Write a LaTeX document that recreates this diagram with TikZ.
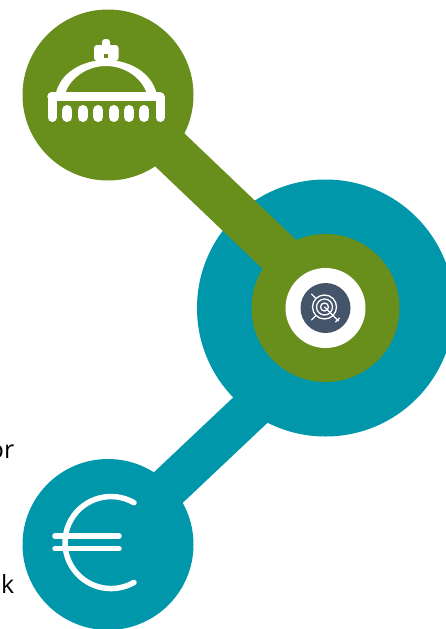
\documentclass[tikz,border=0pt]{standalone}
\usepackage{fontspec}
\setmainfont{Open Sans}
\usetikzlibrary{positioning, calc}
\definecolor{domegreen}{RGB}{104, 142, 28}
\definecolor{hubteal}{RGB}{0, 151, 171}
\definecolor{coreslate}{RGB}{68, 84, 106}
\tikzset{
  disc/.style={circle, inner sep=0pt, minimum size=#1, draw=none},
  iconline/.style={draw=white, line cap=round, line join=round},
  cuttext/.style={inner sep=0pt, anchor=base east, text=black, font=\fontsize{25}{28}\selectfont}
}
\begin{document}
\begin{tikzpicture}[x=1pt, y=-1pt]
  \useasboundingbox (0,0) rectangle (445,629);
  \node[disc=257pt, fill=hubteal] (hubouter) at (325.5,308) {};
  \node[disc=171pt, fill=domegreen] (domecircle) at (108,95) {};
  \node[disc=171pt, fill=hubteal] (eurocircle) at (108,544.5) {};
  \node[disc=148pt, fill=domegreen] (hubring) at (325.5,308) {};
  \coordinate (greenend) at (300,274);
  \coordinate (tealend) at (260,401);

  % Links
  \draw[domegreen, line width=44pt] ([yshift=4pt]domecircle.center) -- (greenend);
  \draw[hubteal, line width=42pt] (eurocircle.center) -- (tealend);

  \node[disc=80pt, fill=white] (hubwhite) at (hubring.center) {};
  \node[disc=50pt, fill=coreslate] (hubcore) at (hubring.center) {};

  % Dome
  \draw[iconline, line width=8.5pt] (51.5,96.5) -- (160,96.5);
  \draw[iconline, line width=9pt] (52,97) -- (52,117.5);
  \draw[iconline, line width=9pt] (160,97) -- (160,117.5);
  \foreach \x in {67.3,82.7,98.3,113.7,129,144.3}
    \draw[iconline, line width=10pt] (\x,110) -- (\x,117);
  \fill[white, even odd rule] (55.7,94) .. controls (60,73) and (82,60) .. (106,60)
    .. controls (130,60) and (152,73) .. (156.7,94) -- cycle
    (65,94) .. controls (70,78) and (87,66) .. (106,66)
    .. controls (125,66) and (142,78) .. (147,94) -- cycle;
  \fill[white, rounded corners=3pt] (94,61) rectangle (118.5,45);
  \fill[white, rounded corners=3pt] (102,50) rectangle (110,39);
  \fill[domegreen] (103.5,53.5) rectangle (108,57.5);

  % Target
  \begin{scope}[shift={(324.5,307)}]
    \draw[iconline, line width=1.3pt] (0,0) circle (12);
    \draw[iconline, line width=1.3pt] (0,0) circle (8);
    \draw[iconline, line width=1.3pt] (0,0) circle (4);
    \draw[iconline, line width=1.3pt] (0,0) -- (14,14);
    \draw[iconline, line width=1.3pt] (11,15) -- (15,11);
    \draw[iconline, line width=1.3pt] (-13,-13) -- (-9,-9);
    \draw[iconline, line width=1.3pt] (-13,13) -- (-9,9);
  \end{scope}

  % Euro
  \draw[iconline, line width=5.5pt] (134,502.7) arc[start angle=-60, end angle=-300, radius=46];
  \draw[iconline, line width=5.5pt] (55,536) -- (119,536);
  \draw[iconline, line width=5.5pt] (55,548.7) -- (119,548.7);

  % Cut off text
  \node[cuttext] (ortext) at (14.5,458) {or};
  \node[cuttext] (ktext) at (14.5,593) {k};
\end{tikzpicture}
\end{document}
